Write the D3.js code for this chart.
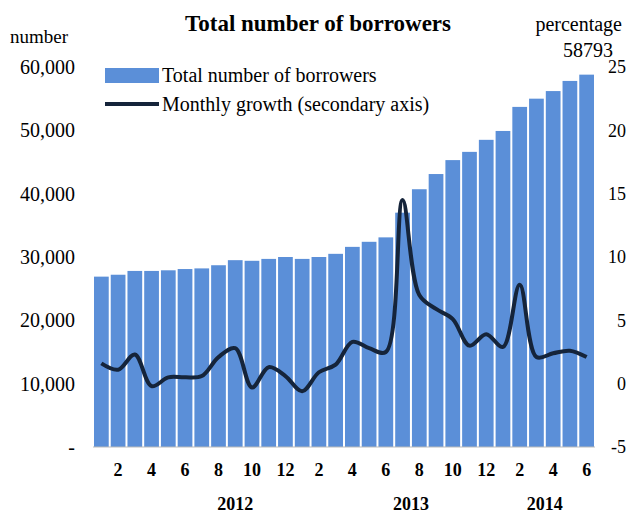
<!DOCTYPE html>
<html><head><meta charset="utf-8">
<script src="https://cdn.jsdelivr.net/npm/d3@7"></script>
<style>body{margin:0;background:#fff}text{font-family:"Liberation Serif","Times New Roman",serif}</style>
</head><body><svg id="chart"></svg>
<script>
// months Jan 2012 - Jun 2014
const months = [1,2,3,4,5,6,7,8,9,10,11,12,1,2,3,4,5,6,7,8,9,10,11,12,1,2,3,4,5,6];
const borrowers = [26900,27200,27800,27800,27900,28100,28200,28700,29500,29400,29700,30000,
  29700,30000,30500,31600,32400,33100,37000,40700,43100,45300,46600,48500,
  49900,53700,55000,56200,57800,58793];
const growth = [1.6,1.1,2.3,-0.2,0.5,0.5,0.6,2.1,2.8,-0.3,1.3,0.6,
  -0.6,0.9,1.5,3.3,2.8,2.5,14.5,7.0,5.9,5.1,3.0,3.9,
  2.9,7.8,2.1,2.4,2.6,2.1];
const leftTicks = [0,10000,20000,30000,40000,50000,60000];
const rightTicks = [-5,0,5,10,15,20,25];
const years = [{label:"2012", at:8.5},{label:"2013", at:19},{label:"2014", at:27}];

const W = 628, H = 513;
const margin = {left:93, right:33, top:67, bottom:66};
const innerW = W - margin.left - margin.right, innerH = H - margin.top - margin.bottom;

const svg = d3.select("#chart").attr("width", W).attr("height", H);
const g = svg.append("g").attr("transform", `translate(${margin.left},${margin.top})`);

const x = d3.scaleBand().domain(d3.range(borrowers.length)).range([0, innerW]).paddingInner(0.12).paddingOuter(0.06);
const y = d3.scaleLinear().domain([0, 60000]).range([innerH, 0]);
const y2 = d3.scaleLinear().domain([-5, 25]).range([innerH, 0]);

// bars
g.selectAll(".bar").data(borrowers).join("rect")
  .attr("x", (d, i) => x(i)).attr("width", x.bandwidth())
  .attr("y", d => y(d)).attr("height", d => innerH - y(d))
  .attr("fill", "#5B8FD8");

// baseline
g.append("line").attr("x1", 0).attr("x2", innerW).attr("y1", innerH).attr("y2", innerH)
  .attr("stroke", "#bbb");

// line
const line = d3.line().x((d, i) => x(i) + x.bandwidth() / 2).y(d => y2(d)).curve(d3.curveCatmullRom.alpha(0.5));
g.append("path").datum(growth).attr("fill", "none").attr("stroke", "#15243a")
  .attr("stroke-width", 4).attr("stroke-linejoin", "round").attr("d", line);

// left axis labels
g.selectAll(".lt").data(leftTicks).join("text")
  .attr("x", -18).attr("y", d => y(d)).attr("dy", "0.35em").attr("text-anchor", "end")
  .attr("font-size", 20).text(d => d === 0 ? "-" : d3.format(",")(d));
// right axis labels
g.selectAll(".rt").data(rightTicks).join("text")
  .attr("x", innerW + 31).attr("y", d => y2(d)).attr("dy", "0.35em").attr("text-anchor", "end")
  .attr("font-size", 18).text(d => d);

// month labels
g.selectAll(".mt").data(months).join("text")
  .attr("x", (d, i) => x(i) + x.bandwidth() / 2).attr("y", innerH + 29).attr("text-anchor", "middle")
  .attr("font-size", 18).attr("font-weight", "bold")
  .text(d => d % 2 === 0 ? d : "");
// year labels
const step = x.step();
g.selectAll(".yr").data(years).join("text")
  .attr("x", d => d.at * step).attr("y", innerH + 63).attr("text-anchor", "middle")
  .attr("font-size", 18).attr("font-weight", "bold").text(d => d.label);

// titles
svg.append("text").attr("x", 318).attr("y", 31).attr("text-anchor", "middle")
  .attr("font-size", 23).attr("font-weight", "bold").text("Total number of borrowers");
svg.append("text").attr("x", 10).attr("y", 43).attr("font-size", 19).text("number");
svg.append("text").attr("x", 622).attr("y", 31).attr("text-anchor", "end").attr("font-size", 20).text("percentage");
svg.append("text").attr("x", 613).attr("y", 57).attr("text-anchor", "end").attr("font-size", 20).text(borrowers[borrowers.length - 1]);

// legend
svg.append("rect").attr("x", 105).attr("y", 68).attr("width", 54).attr("height", 15).attr("fill", "#5B8FD8");
svg.append("text").attr("x", 162).attr("y", 82).attr("font-size", 20).text("Total number of borrowers");
svg.append("line").attr("x1", 105).attr("x2", 159).attr("y1", 104).attr("y2", 104)
  .attr("stroke", "#15243a").attr("stroke-width", 4);
svg.append("text").attr("x", 162).attr("y", 111).attr("font-size", 20).text("Monthly growth (secondary axis)");
</script></body></html>
